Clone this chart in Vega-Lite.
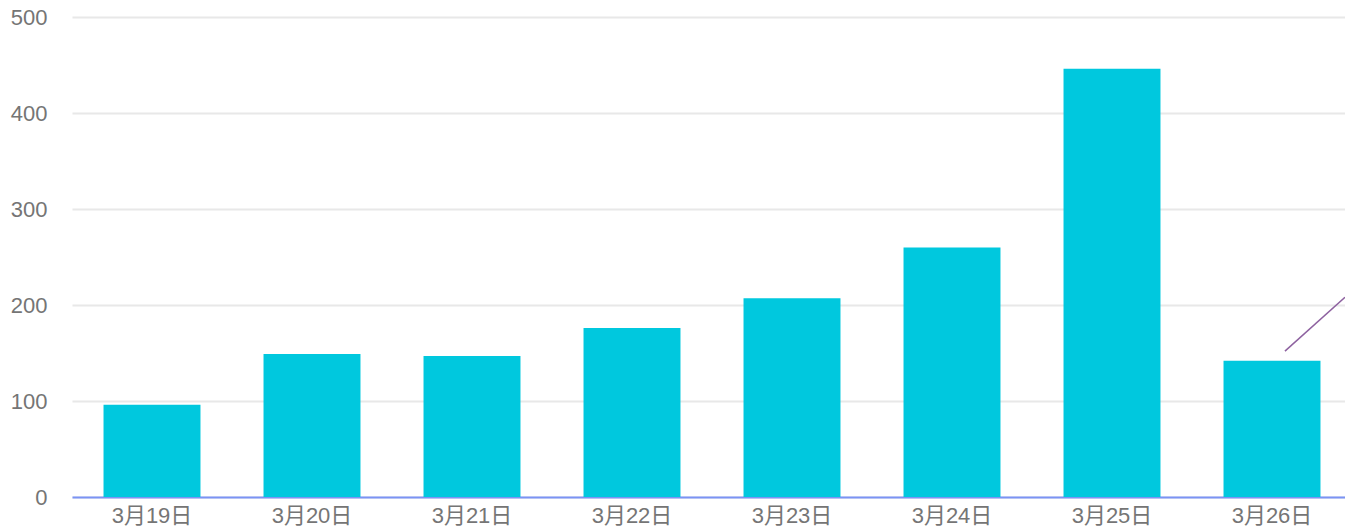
{
  "$schema": "https://vega.github.io/schema/vega-lite/v6.json",
  "width": 1280,
  "height": 480,
  "autosize": {"type": "none"},
  "padding": {"left": 72, "top": 17, "right": 0, "bottom": 31},
  "background": "white",
  "config": {
    "view": {"stroke": null},
    "font": "Liberation Sans, Noto Sans CJK SC"
  },
  "datasets": {
    "bars": [
      {"date": "3月19日", "value": 96},
      {"date": "3月20日", "value": 149},
      {"date": "3月21日", "value": 147},
      {"date": "3月22日", "value": 176},
      {"date": "3月23日", "value": 207},
      {"date": "3月24日", "value": 260},
      {"date": "3月25日", "value": 446},
      {"date": "3月26日", "value": 142}
    ],
    "trend": [
      {"pos": 7.581, "value": 152},
      {"pos": 7.956, "value": 208}
    ]
  },
  "layer": [
    {
      "data": {"name": "bars"},
      "mark": {"type": "bar", "color": "#00c8de"},
      "encoding": {
        "x": {
          "field": "date",
          "type": "nominal",
          "sort": null,
          "scale": {"paddingInner": 0.394, "paddingOuter": 0.197},
          "axis": {
            "title": null,
            "labelAngle": 0,
            "labelFontSize": 22,
            "labelColor": "#757575",
            "labelPadding": 8,
            "ticks": false,
            "domainColor": "#7b93f5",
            "domainWidth": 2,
            "grid": false
          }
        },
        "y": {
          "field": "value",
          "type": "quantitative",
          "scale": {"domain": [0, 500], "nice": false},
          "axis": {
            "title": null,
            "values": [0, 100, 200, 300, 400, 500],
            "labelFontSize": 22,
            "labelColor": "#757575",
            "labelPadding": 25,
            "ticks": false,
            "domain": false,
            "gridColor": "#e8e8e8",
            "gridWidth": 2
          }
        }
      }
    },
    {
      "data": {"name": "trend"},
      "mark": {"type": "line", "color": "#8e62a0", "strokeWidth": 1.5, "clip": true},
      "encoding": {
        "x": {
          "field": "pos",
          "type": "quantitative",
          "scale": {"domain": [0, 8], "nice": false, "zero": false},
          "axis": null
        },
        "y": {"field": "value", "type": "quantitative"}
      }
    }
  ],
  "resolve": {"scale": {"x": "independent"}}
}
